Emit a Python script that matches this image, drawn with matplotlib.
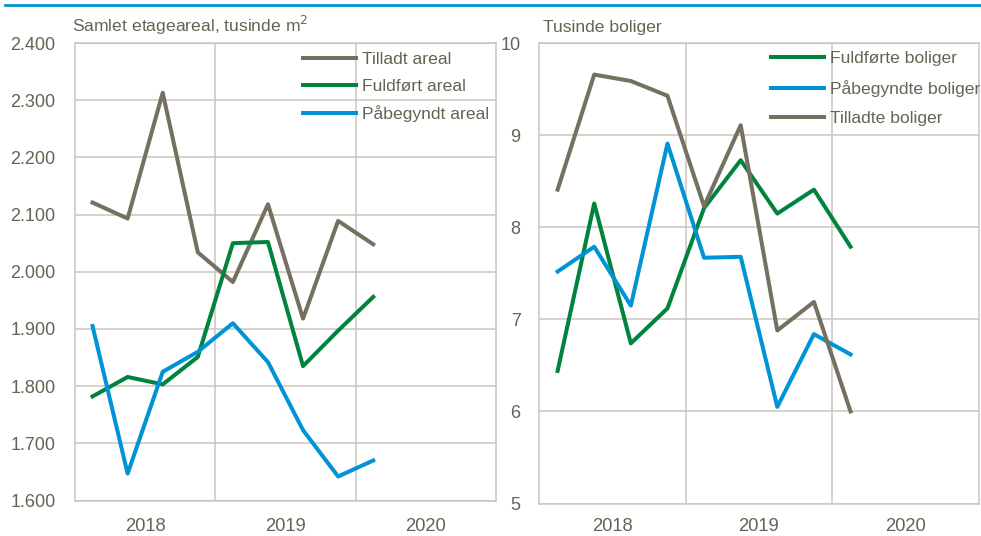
from matplotlib import pyplot as plt
from matplotlib.lines import Line2D
import numpy as np
import matplotlib

matplotlib.use("Agg")
plt.rcParams["font.family"] = ["Liberation Sans", "DejaVu Sans"]
plt.rcParams["font.size"] = 12.6

# quarters 2018Q1 .. 2020Q1 (axis runs to 2020Q4)
years = ["2018", "2019", "2020"]
n_q = 12

tilladt_areal = [2121, 2093, 2313, 2034, 1982, 2118, 1918, 2089, 2048]
fuldfoert_areal = [1782, 1816, 1803, 1851, 2050, 2052, 1835, 1897, 1956]
paabegyndt_areal = [1905, 1647, 1825, 1860, 1910, 1842, 1723, 1642, 1670]

fuldfoerte_boliger = [6.44, 8.26, 6.74, 7.12, 8.21, 8.73, 8.15, 8.41, 7.79]
paabegyndte_boliger = [7.52, 7.79, 7.15, 8.91, 7.67, 7.68, 6.05, 6.84, 6.62]
tilladte_boliger = [8.41, 9.66, 9.59, 9.43, 8.23, 9.11, 6.88, 7.19, 6.00]

grey = "#757060"
green = "#00843d"
blue = "#0094d6"
txt = "#666254"
gridc = "#c9c6bc"

W, H = 981, 536
fig = plt.figure(figsize=(W / 100, H / 100), dpi=100)
fig.add_artist(Line2D([5 / W, 1], [1 - 5 / H] * 2, color=blue, lw=2))


def setup(ax, ylim, yticks, fmt, xpad, ypad):
    ax.set_xlim(-0.5, n_q - 0.5)
    ax.set_ylim(*ylim)
    ax.set_yticks(yticks)
    ax.set_yticklabels([fmt(v) for v in yticks], fontsize=13)
    ax.set_xticks(np.arange(len(years)) * 4 + 1.5)
    ax.set_xticklabels(years, fontsize=13.2)
    ax.set_xticks(np.arange(1, len(years)) * 4 - 0.5, minor=True)
    ax.grid(True, axis="y", color=gridc, lw=1.1)
    ax.grid(True, axis="x", which="minor", color=gridc, lw=1.1)
    ax.set_axisbelow(True)
    ax.tick_params(which="both", length=0, colors=txt)
    ax.tick_params(axis="x", pad=xpad)
    ax.tick_params(axis="y", pad=ypad)
    for s in ax.spines.values():
        s.set_color(gridc)
        s.set_linewidth(1.1)


def legend(ax, x0, y0, spacing):
    ax.legend(loc="upper left", bbox_to_anchor=(x0 / W, 1 - y0 / H),
              bbox_transform=fig.transFigure, frameon=False, borderpad=0,
              borderaxespad=0, handlelength=3.05, handletextpad=0.3,
              labelspacing=spacing, labelcolor=txt)


x = np.arange(len(tilladt_areal))

ax1 = fig.add_axes([75 / W, 1 - 500.5 / H, 421 / W, 457.5 / H])
setup(ax1, (1600, 2400), np.arange(1600, 2401, 100),
      lambda v: f"{int(v):,}".replace(",", "."), 12.5, 14)
ax1.plot(x, tilladt_areal, color=grey, lw=2.9, label="Tilladt areal")
ax1.plot(x, fuldfoert_areal, color=green, lw=2.9, label="Fuldført areal")
ax1.plot(x, paabegyndt_areal, color=blue, lw=2.9, label="Påbegyndt areal")
legend(ax1, 303, 52, 0.65)
fig.text(72 / W, 1 - 32 / H, "Samlet etageareal, tusinde m$^2$",
         color=txt, va="baseline", ha="left")

ax2 = fig.add_axes([539.3 / W, 1 - 503.5 / H, 439.4 / W, 460.2 / H])
setup(ax2, (5, 10), np.arange(5, 11), lambda v: f"{int(v)}", 10.5, 13.5)
ax2.plot(x, fuldfoerte_boliger, color=green, lw=2.9, label="Fuldførte boliger")
ax2.plot(x, paabegyndte_boliger, color=blue, lw=2.9, label="Påbegyndte boliger")
ax2.plot(x, tilladte_boliger, color=grey, lw=2.9, label="Tilladte boliger")
legend(ax2, 771, 51, 0.78)
fig.text(543 / W, 1 - 32 / H, "Tusinde boliger", color=txt,
         va="baseline", ha="left")

plt.savefig("out.png", dpi=100)
